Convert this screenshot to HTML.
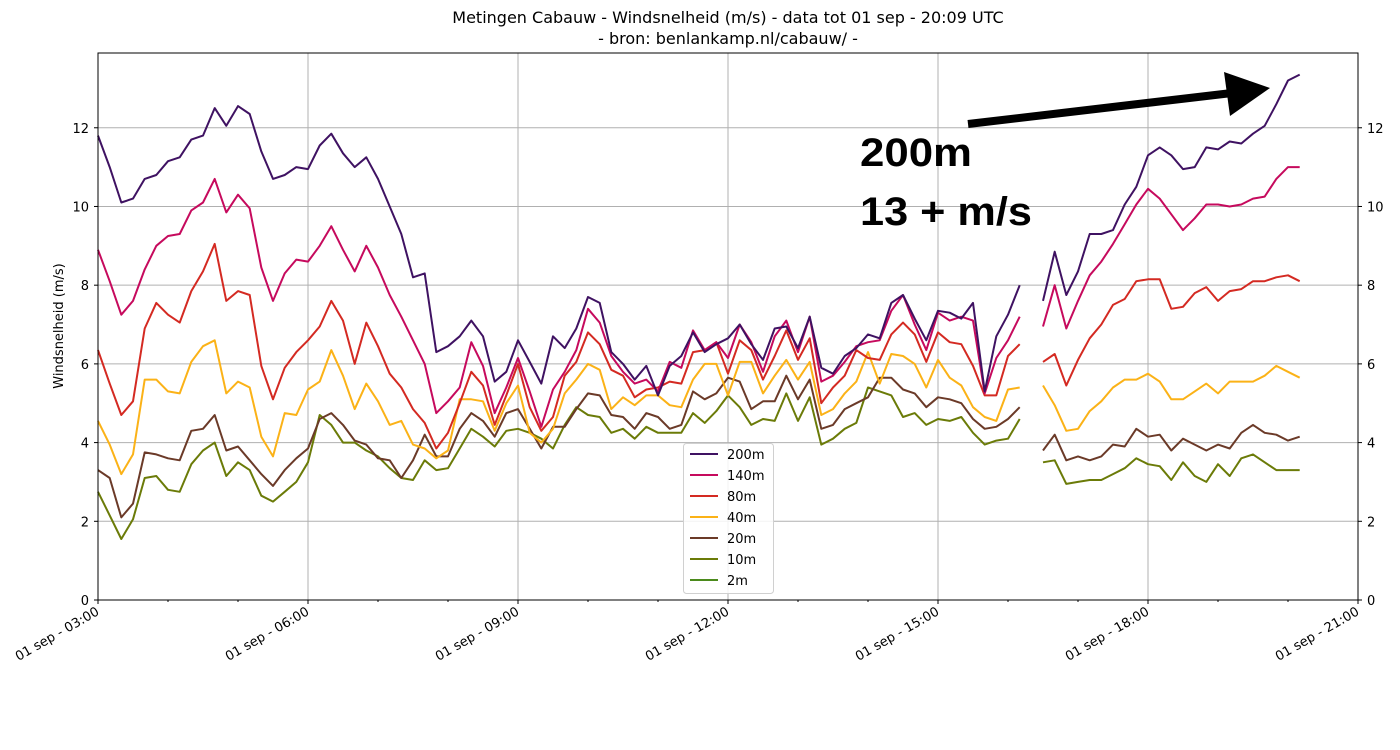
<!DOCTYPE html>
<html><head><meta charset="utf-8"><style>
html,body{margin:0;padding:0;background:#fff;}
svg{display:block;font-family:"DejaVu Sans","Liberation Sans",sans-serif;}
</style></head><body>
<svg id="chart" width="1400" height="750" viewBox="0 0 1400 750" xmlns="http://www.w3.org/2000/svg">
<text x="728" y="23" font-size="16" text-anchor="middle" fill="#000">Metingen Cabauw - Windsnelheid (m/s) - data tot 01 sep - 20:09 UTC</text>
<text x="728" y="44" font-size="16" text-anchor="middle" fill="#000">- bron: benlankamp.nl/cabauw/ -</text>
<g id="grid"></g>
<g id="series"></g>
<rect x="98" y="53" width="1260" height="547" fill="none" stroke="#000" stroke-width="1"/>
<g id="axes"></g>
<text transform="translate(63,326) rotate(-90)" font-size="13" text-anchor="middle">Windsnelheid (m/s)</text>
<g>
<line x1="968" y1="124" x2="1232" y2="93" stroke="#000" stroke-width="8"/>
<polygon points="1224,72 1270,88 1230,116" fill="#000"/>
<text x="860" y="166" font-size="40" font-weight="bold" font-family="'Liberation Sans Narrow','Liberation Sans',sans-serif" textLength="112" lengthAdjust="spacingAndGlyphs">200m</text>
<text x="860" y="225" font-size="40" font-weight="bold" font-family="'Liberation Sans Narrow','Liberation Sans',sans-serif" textLength="172" lengthAdjust="spacingAndGlyphs">13 + m/s</text>
</g>
<g id="legend"></g>
</svg>
<script>
const seriesNames = ["200m","140m","80m","40m","20m","10m","2m"];
const seriesColors = ["#3f1262","#c60a5d","#d42a22","#fbb217","#6b3a28","#6b7b08","#4b8a1c"];
const xTickLabels = ["01 sep - 03:00","01 sep - 06:00","01 sep - 09:00","01 sep - 12:00","01 sep - 15:00","01 sep - 18:00","01 sep - 21:00"];
const yTicks = [0,2,4,6,8,10,12];
const N = null;
const s200 = [11.8,11.0,10.1,10.2,10.7,10.8,11.15,11.25,11.7,11.8,12.5,12.05,12.55,12.35,11.4,10.7,10.8,11.0,10.95,11.55,11.85,11.35,11.0,11.25,10.7,10.0,9.3,8.2,8.3,6.3,6.45,6.7,7.1,6.7,5.55,5.8,6.6,6.05,5.5,6.7,6.4,6.9,7.7,7.55,6.3,6.0,5.6,5.95,5.2,5.95,6.2,6.8,6.3,6.5,6.65,7.0,6.5,6.1,6.9,6.95,6.4,7.2,5.9,5.75,6.2,6.4,6.75,6.65,7.55,7.75,7.15,6.6,7.35,7.3,7.15,7.55,5.3,6.7,7.25,8.0,N,7.6,8.85,7.75,8.35,9.3,9.3,9.4,10.05,10.5,11.3,11.5,11.3,10.95,11.0,11.5,11.45,11.65,11.6,11.85,12.05,12.6,13.2,13.35];
const s140 = [8.9,8.1,7.25,7.6,8.4,9.0,9.25,9.3,9.9,10.1,10.7,9.85,10.3,9.95,8.45,7.6,8.3,8.65,8.6,9.0,9.5,8.9,8.35,9.0,8.45,7.75,7.2,6.6,6.0,4.75,5.05,5.4,6.55,5.95,4.75,5.4,6.15,5.3,4.4,5.35,5.8,6.35,7.4,7.05,6.2,5.8,5.5,5.6,5.3,6.05,5.9,6.85,6.35,6.55,6.15,7.0,6.55,5.8,6.7,7.1,6.3,7.2,5.55,5.7,6.05,6.45,6.55,6.6,7.35,7.75,7.0,6.35,7.3,7.1,7.2,7.1,5.25,6.15,6.6,7.2,N,6.95,8.0,6.9,7.6,8.25,8.6,9.05,9.55,10.05,10.45,10.2,9.8,9.4,9.7,10.05,10.05,10.0,10.05,10.2,10.25,10.7,11.0,11.0];
const s80 = [6.35,5.5,4.7,5.05,6.9,7.55,7.25,7.05,7.85,8.35,9.05,7.6,7.85,7.75,5.95,5.1,5.9,6.3,6.6,6.95,7.6,7.1,6.0,7.05,6.45,5.75,5.4,4.85,4.5,3.85,4.25,5.0,5.8,5.45,4.45,5.2,6.0,4.9,4.3,4.65,5.7,6.05,6.8,6.5,5.85,5.7,5.15,5.35,5.4,5.55,5.5,6.3,6.35,6.55,5.75,6.6,6.35,5.6,6.2,6.85,6.1,6.65,5.0,5.4,5.7,6.35,6.15,6.1,6.75,7.05,6.75,6.05,6.8,6.55,6.5,5.95,5.2,5.2,6.2,6.5,N,6.05,6.25,5.45,6.1,6.65,7.0,7.5,7.65,8.1,8.15,8.15,7.4,7.45,7.8,7.95,7.6,7.85,7.9,8.1,8.1,8.2,8.25,8.1];
const s40 = [4.55,3.95,3.2,3.7,5.6,5.6,5.3,5.25,6.05,6.45,6.6,5.25,5.55,5.4,4.15,3.65,4.75,4.7,5.35,5.55,6.35,5.7,4.85,5.5,5.05,4.45,4.55,3.95,3.85,3.6,3.8,5.1,5.1,5.05,4.3,5.0,5.45,4.25,4.0,4.35,5.25,5.6,6.0,5.85,4.85,5.15,4.95,5.2,5.2,4.95,4.9,5.6,6.0,6.0,5.2,6.05,6.05,5.25,5.7,6.1,5.6,6.05,4.7,4.85,5.25,5.55,6.3,5.5,6.25,6.2,6.0,5.4,6.1,5.65,5.45,4.9,4.65,4.55,5.35,5.4,N,5.45,4.95,4.3,4.35,4.8,5.05,5.4,5.6,5.6,5.75,5.55,5.1,5.1,5.3,5.5,5.25,5.55,5.55,5.55,5.7,5.95,5.8,5.65];
const s20 = [3.3,3.1,2.1,2.45,3.75,3.7,3.6,3.55,4.3,4.35,4.7,3.8,3.9,3.55,3.2,2.9,3.3,3.6,3.85,4.6,4.75,4.45,4.05,3.95,3.6,3.55,3.1,3.55,4.2,3.65,3.65,4.35,4.75,4.55,4.15,4.75,4.85,4.35,3.85,4.4,4.4,4.85,5.25,5.2,4.7,4.65,4.35,4.75,4.65,4.35,4.45,5.3,5.1,5.25,5.65,5.55,4.85,5.05,5.05,5.7,5.1,5.6,4.35,4.45,4.85,5.0,5.15,5.65,5.65,5.35,5.25,4.9,5.15,5.1,5.0,4.6,4.35,4.4,4.6,4.9,N,3.8,4.2,3.55,3.65,3.55,3.65,3.95,3.9,4.35,4.15,4.2,3.8,4.1,3.95,3.8,3.95,3.85,4.25,4.45,4.25,4.2,4.05,4.15];
const s10 = [2.75,2.15,1.55,2.05,3.1,3.15,2.8,2.75,3.45,3.8,4.0,3.15,3.5,3.3,2.65,2.5,2.75,3.0,3.5,4.7,4.45,4.0,4.0,3.8,3.65,3.35,3.1,3.05,3.55,3.3,3.35,3.85,4.35,4.15,3.9,4.3,4.35,4.25,4.1,3.85,4.45,4.9,4.7,4.65,4.25,4.35,4.1,4.4,4.25,4.25,4.25,4.75,4.5,4.8,5.2,4.9,4.45,4.6,4.55,5.25,4.55,5.15,3.95,4.1,4.35,4.5,5.4,5.3,5.2,4.65,4.75,4.45,4.6,4.55,4.65,4.25,3.95,4.05,4.1,4.6,N,3.5,3.55,2.95,3.0,3.05,3.05,3.2,3.35,3.6,3.45,3.4,3.05,3.5,3.15,3.0,3.45,3.15,3.6,3.7,3.5,3.3,3.3,3.3];
const s2 = [];
const seriesValues = [s200,s140,s80,s40,s20,s10,s2];

const NS = "http://www.w3.org/2000/svg";
const X0 = 98, X1 = 1358, Y0 = 600, Y1 = 53;
const yMax = 13.9, hours = 18, stepMin = 10;
function xScale(i){ return X0 + (i*stepMin/60)/hours*(X1-X0); }
function xHour(h){ return X0 + h/hours*(X1-X0); }
function yScale(v){ return Y0 - v/yMax*(Y0-Y1); }
function mk(tag, attrs, parent){ const e=document.createElementNS(NS,tag); for(const k in attrs) e.setAttribute(k,attrs[k]); parent.appendChild(e); return e; }

const grid = document.getElementById('grid');
const axes = document.getElementById('axes');
yTicks.forEach(function(t){
  const y = yScale(t);
  if (t>0) {
    const g = mk('line',{x1:X0,x2:X1,y1:y,y2:y,stroke:'#b0b0b0','stroke-width':1},grid);
    
    
  }
  const tl = mk('line',{x1:X0-4,x2:X0,y1:y,y2:y,stroke:'#000'},axes);
  
  
  const tr = mk('line',{x1:X1,x2:X1+4,y1:y,y2:y,stroke:'#000'},axes);
  
  
  const lt = mk('text',{x:X0-9,y:y+5,'font-size':13,'text-anchor':'end'},axes);
  lt.textContent = t;
  
  
  const rt = mk('text',{x:X1+9,y:y+5,'font-size':13,'text-anchor':'start'},axes);
  rt.textContent = t;
  
  
});
for (let h=0; h<=hours; h++){
  const x = xHour(h);
  const major = h%3===0;
  if (major && h>0 && h<hours){
    const g = mk('line',{x1:x,x2:x,y1:Y1,y2:Y0,stroke:'#b0b0b0','stroke-width':1},grid);
    
    
  }
  const tk = mk('line',{x1:x,x2:x,y1:Y0,y2:Y0+(major?4:2),stroke:'#000'},axes);
  
  
  if (major){
    const lab = mk('text',{transform:'translate('+(x+2)+','+(Y0+14)+') rotate(-30)','font-size':13,'text-anchor':'end'},axes);
    lab.textContent = xTickLabels[h/3];
    
    
  }
}

const sg = document.getElementById('series');
for (let s=seriesValues.length-1; s>=0; s--){
  const vals = seriesValues[s];
  let d = '', pen = false;
  vals.forEach(function(v,i){
    if (v===null || v===undefined){ pen=false; return; }
    d += (pen?'L':'M') + xScale(i).toFixed(1) + ',' + yScale(v).toFixed(1);
    pen = true;
  });
  if (!d) continue;
  const p = mk('path',{d:d,fill:'none',stroke:seriesColors[s],'stroke-width':2,'stroke-linejoin':'round'},sg);
  
  
}

const lg = document.getElementById('legend');
const box = mk('rect',{x:683.5,y:443.5,width:90,height:150,rx:3,fill:'#fff','fill-opacity':0.85,stroke:'#d0d0d0'},lg);


seriesNames.forEach(function(n,i){
  const y = 454 + i*21;
  const ln = mk('line',{x1:690,x2:718,y1:y,y2:y,stroke:seriesColors[i],'stroke-width':2},lg);
  
  
  const t = mk('text',{x:727,y:y+5,'font-size':13},lg);
  t.textContent = n;
  
  
});
</script>
</body></html>
